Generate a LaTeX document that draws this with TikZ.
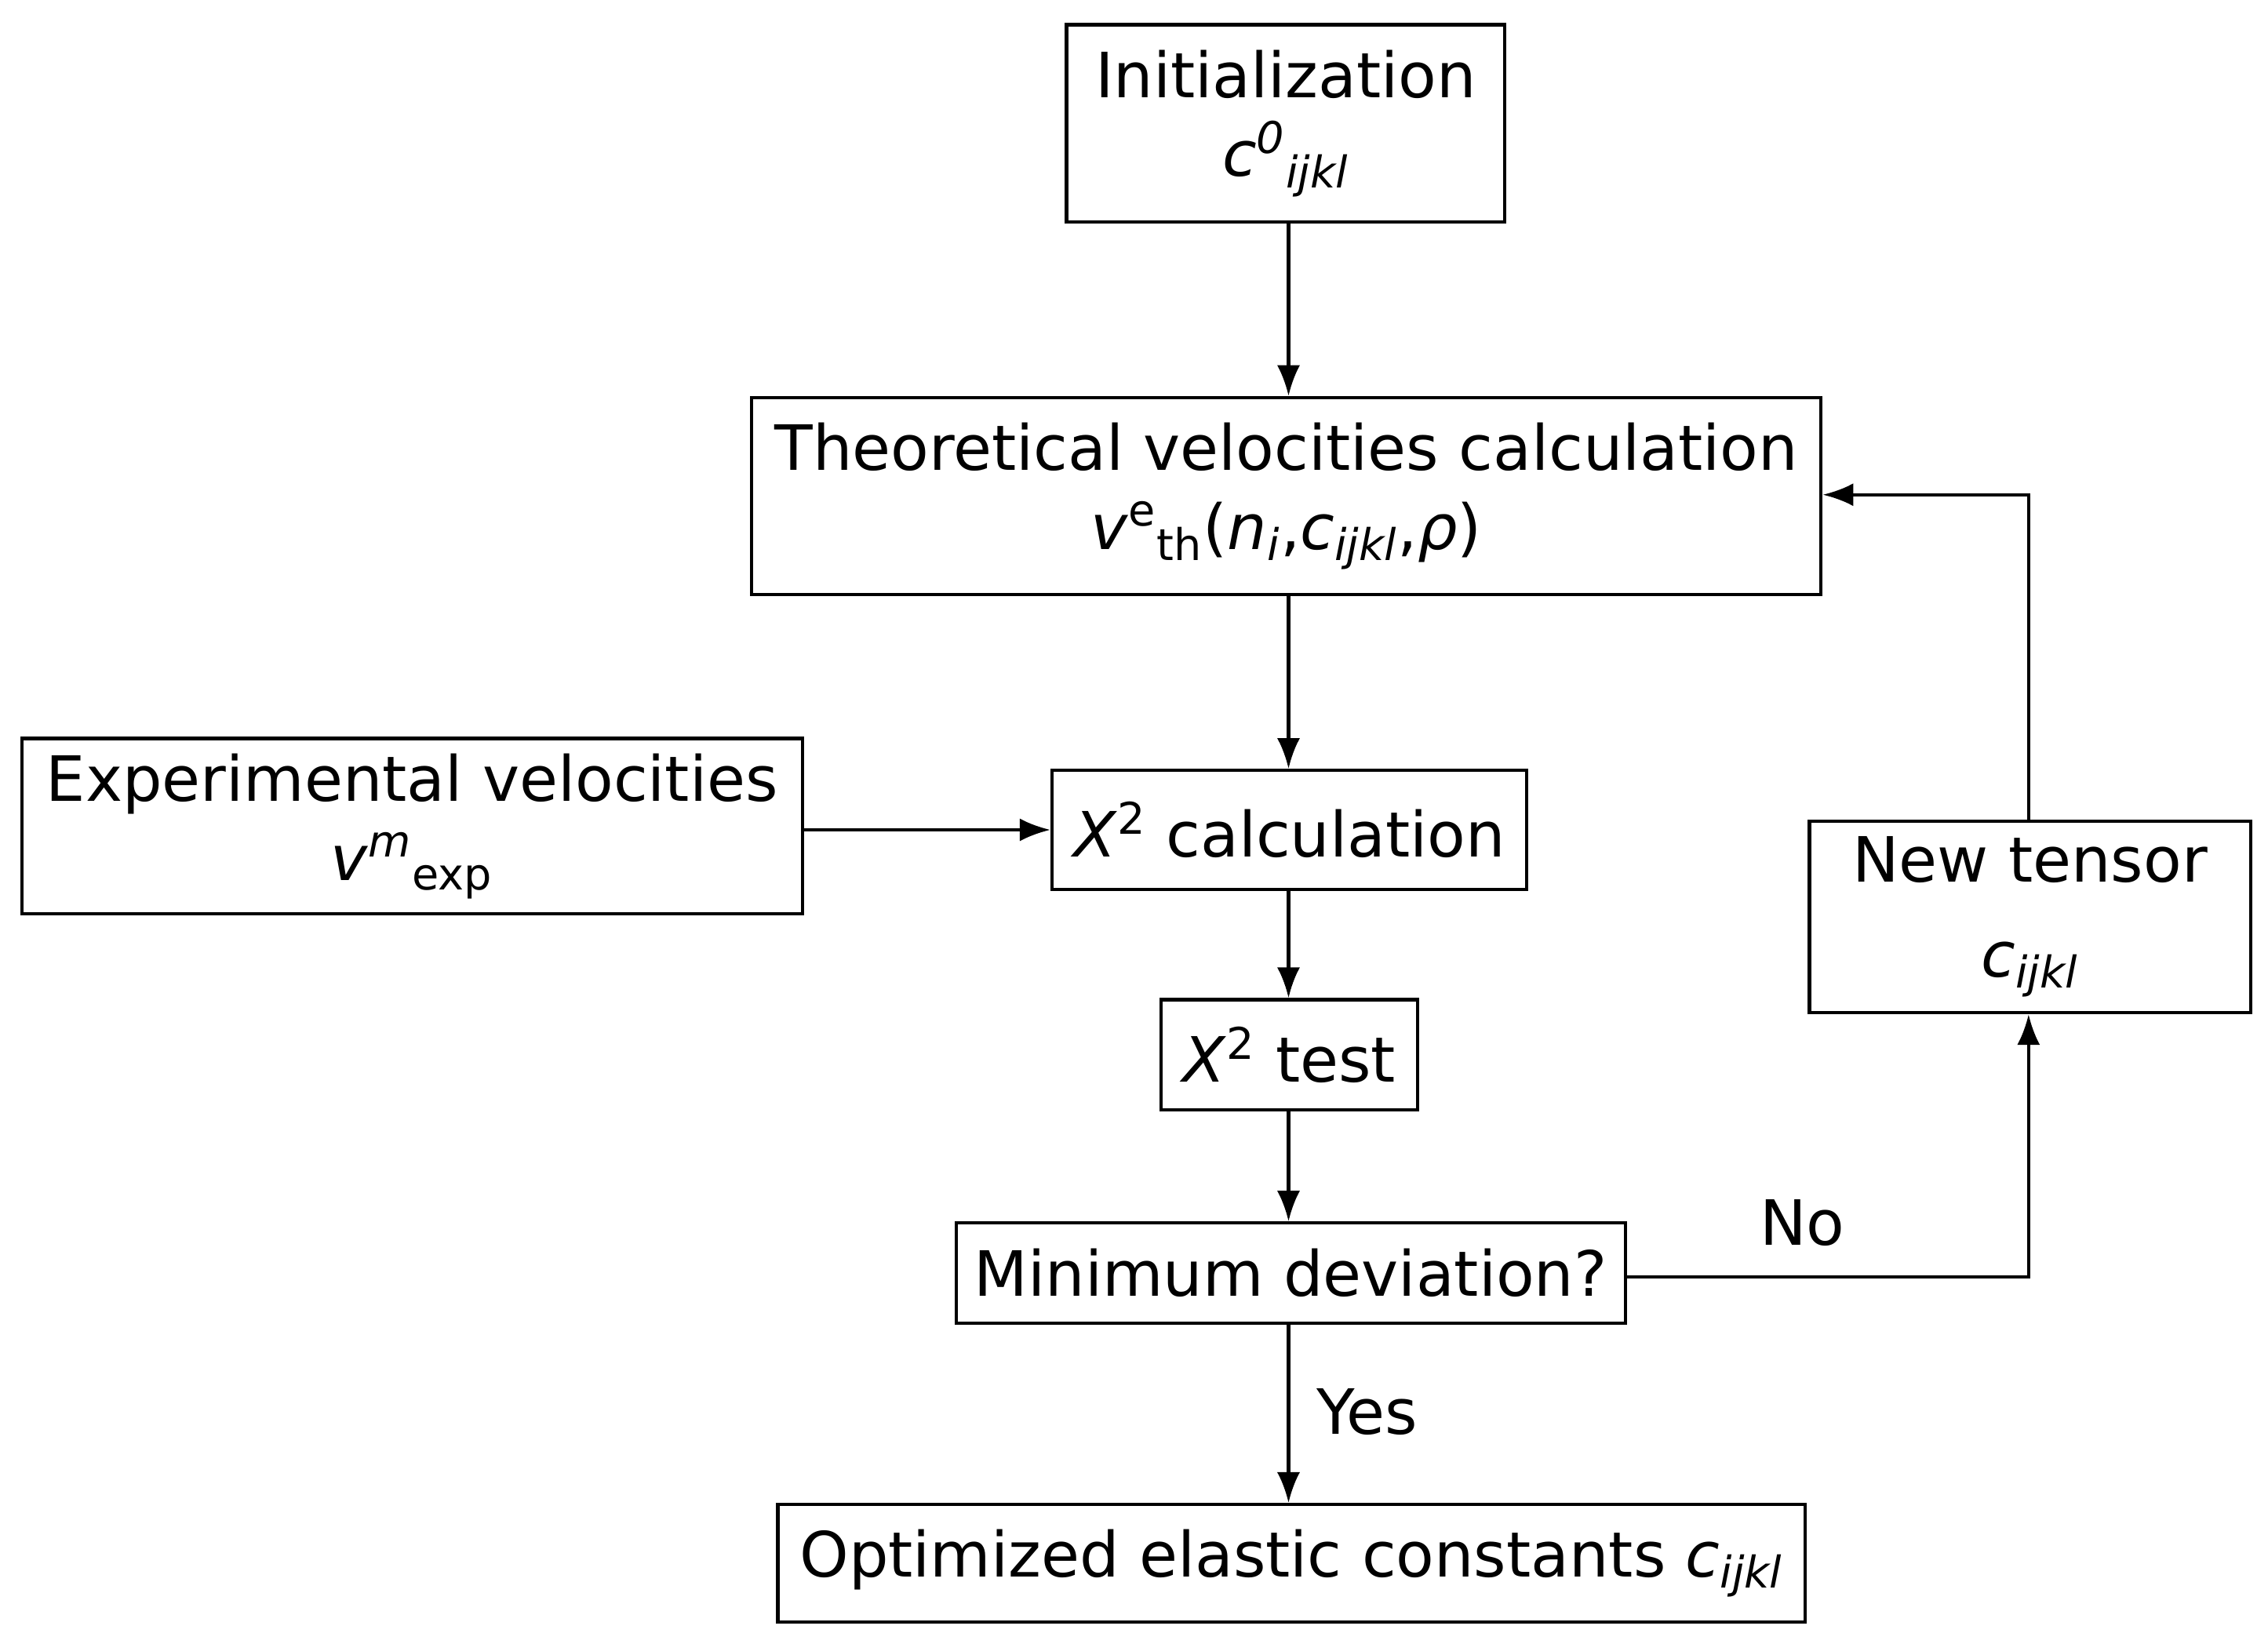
\documentclass[tikz,border=0pt]{standalone}
\usepackage{fontspec}
\setmainfont{DejaVu Sans}
\usetikzlibrary{arrows.meta}
\begin{document}
\begin{tikzpicture}[x=0.02cm,y=-0.02cm,
 box/.style={draw,line width=1.3pt,align=center,inner sep=0pt,font=\fontsize{24.5}{31}\selectfont},
 arr/.style={-{Latex[length=12pt,width=9pt]},line width=1.3pt},
 lbl/.style={font=\fontsize{24.5}{31}\selectfont}]
\useasboundingbox (0,0) rectangle (1563,1133);
\newcommand{\bx}[6]{\node[box,minimum width={(#4-#2)*0.02cm},minimum height={(#5-#3)*0.02cm}] (#1) at ({(#2+#4)/2},{(#3+#5)/2}) {#6};}
\bx{init}{735}{17}{1037}{153}{Initialization\\\textit{c}\textsuperscript{\textit{0}}\textsubscript{\textit{ijkl}}}
\bx{theo}{518}{274}{1255}{410}{Theoretical velocities calculation\\\textit{v}\textsuperscript{e}\textsubscript{th}(\textit{n}\textsubscript{\textit{i}},\textit{c}\textsubscript{\textit{ijkl}},\textit{ρ})}
\bx{exp}{15}{509}{553}{630}{Experimental velocities\\\textit{v}\textsuperscript{\textit{m}}\textsubscript{exp}}
\bx{calc}{725}{531}{1052}{613}{\textit{X}\textsuperscript{2} calculation}
\bx{test}{800}{689}{977}{765}{\textit{X}\textsuperscript{2} test}
\bx{min}{659}{843}{1120}{912}{Minimum deviation?}
\bx{new}{1247}{566}{1551}{698}{New tensor\\[6pt]\textit{c}\textsubscript{\textit{ijkl}}}
\bx{opt}{536}{1037}{1244}{1118}{Optimized elastic constants \textit{c}\textsubscript{\textit{ijkl}}}
\draw[arr] (init.south -| 888,0) -- (theo.north -| 888,0);
\draw[arr] (theo.south -| 888,0) -- (calc.north -| 888,0);
\draw[arr] (calc.south -| 888,0) -- (test.north -| 888,0);
\draw[arr] (test.south -| 888,0) -- (min.north -| 888,0);
\draw[arr] (min.south -| 888,0) -- (opt.north -| 888,0);
\draw[arr] (exp.east |- 0,572) -- (calc.west |- 0,572);
\draw[arr] (min.east |- 0,880) -| (new.south -| 1398,0);
\draw[arr] (new.north -| 1398,0) |- (theo.east |- 0,341);
\node[lbl] (no) at (1242,843) {No};
\node[lbl] (yes) at (942,973) {Yes};
\end{tikzpicture}
\end{document}
